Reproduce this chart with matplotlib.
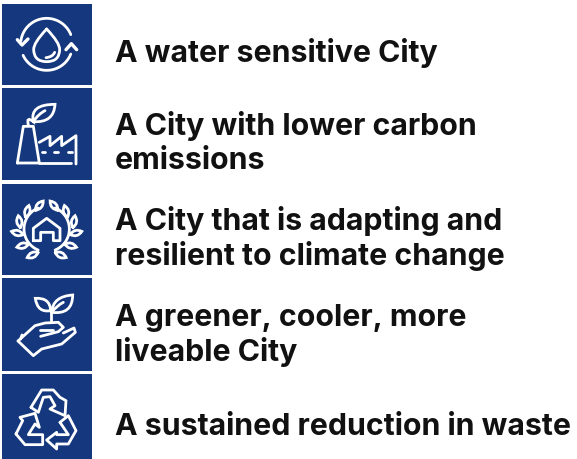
import numpy as np
import matplotlib
matplotlib.use('Agg')
import matplotlib.pyplot as plt
from matplotlib.patches import Rectangle, PathPatch
from matplotlib.path import Path

# Text lines of the list
line_texts = ['A water sensitive City', 'A City with lower carbon', 'emissions',
              'A City that is adapting and', 'resilient to climate change',
              'A greener, cooler, more', 'liveable City', 'A sustained reduction in waste']
line_baselines = [62, 135, 169, 230, 265, 326, 361, 435]

# Blue panels, top and bottom in pixels
panel_tops = [4.5, 88.5, 184.5, 279, 375]
panel_bottoms = [86, 181, 276, 372, 460]

navy = '#14377d'
text_color = '#111111'
icon_lw = 2.0

fig = plt.figure(figsize=(5.77, 4.6), dpi=100)
ax = fig.add_axes([0, 0, 1, 1])
ax.set_xlim(0, 577)
ax.set_ylim(460, 0)
ax.axis('off')

for top, bottom in zip(panel_tops, panel_bottoms):
    ax.add_patch(Rectangle((1.5, top), 90.5, bottom - top, color=navy, lw=0))

for txt, base in zip(line_texts, line_baselines):
    ax.text(115, base, txt, fontsize=21.8, fontweight='bold', family='Inter',
            color=text_color, va='baseline', ha='left')


# icon strokes are given in coordinates of a 3x crop, y0 is the crop offset
def stroke(pts, y0=0, closed=False, lw=icon_lw):
    pts = np.array(pts, dtype=float) / 3
    pts[:, 1] += y0
    if closed:
        pts = np.vstack([pts, pts[0]])
    ax.plot(pts[:, 0], pts[:, 1], color='white', lw=lw, solid_capstyle='round',
            solid_joinstyle='round')


def curve(pts, y0=0, lw=icon_lw):
    # chain of quadratic beziers: start, ctrl, end, ctrl, end...
    pts = np.array(pts, dtype=float) / 3
    pts[:, 1] += y0
    codes = [Path.MOVETO] + [Path.CURVE3] * (len(pts) - 1)
    ax.add_patch(PathPatch(Path(pts, codes), fc='none', ec='white', lw=lw, capstyle='round'))


def arc(cx, cy, r, a0, a1, y0=0, lw=icon_lw):
    t = np.radians(np.linspace(a0, a1, 60))
    stroke(np.column_stack([cx + r * np.cos(t), cy - r * np.sin(t)]), y0, lw=lw)


def leaf(cx, cy, angle, length=18, width=10, y0=0):
    # small outlined leaf in crop coordinates
    a = np.radians(angle)
    u = np.array([np.cos(a), -np.sin(a)])
    n = np.array([np.sin(a), np.cos(a)])
    c = np.array([cx, cy], dtype=float)
    curve([c - u * length, c + n * width * 1.6, c + u * length,
           c - n * width * 1.6, c - u * length], y0, lw=icon_lw)


# water cycle icon
arc(140, 136, 78, 22, 172)
arc(140, 136, 78, 205, 338)
stroke([(52, 122), (66, 138), (84, 120)], lw=2.4)
stroke([(198, 152), (214, 134), (230, 152)], lw=2.4)
curve([(140, 90), (100, 132), (101, 152), (102, 188), (140, 188),
       (178, 188), (179, 152), (180, 132), (140, 90)])
curve([(138, 176), (158, 174), (164, 160)])

# factory icon
stroke([(52, 492), (70, 382), (100, 382), (118, 492)], closed=True)
stroke([(118, 430), (150, 412), (150, 440), (185, 412), (185, 440), (228, 410), (228, 495)])
stroke([(118, 492), (212, 492)])
for x in [130, 168, 210]:
    stroke([(x - 5, 458), (x + 5, 458)])
curve([(85, 378), (78, 350), (100, 368), (88, 316), (165, 316),
       (162, 372), (100, 368)])
curve([(100, 368), (115, 345), (135, 335)])

# laurel and house icon
stroke([(100, 185), (100, 148), (140, 118), (180, 148), (180, 185), (160, 185),
        (160, 160), (122, 160), (122, 185)], 180, closed=True)
arc(140, 150, 68, 112, 248, 180)
arc(140, 150, 68, -68, 68, 180)
left_leaves = [(118, 80, 50), (82, 97, 75), (58, 128, 100), (52, 162, 165), (68, 200, 195), (98, 228, 205)]
for x, y, ang in left_leaves:
    leaf(x, y, ang, y0=180)
    leaf(280 - x, y, 180 - ang, y0=180)

# hand and plant icon
stroke([(152, 425), (152, 395)], 180)
curve([(152, 395), (150, 355), (106, 358), (112, 402), (152, 395)], 180)
curve([(155, 400), (218, 408), (218, 348), (158, 352), (155, 400)], 180)
curve([(155, 400), (170, 380), (190, 370)], 180)
stroke([(54, 486), (105, 440), (135, 432), (175, 430), (190, 445), (175, 458), (122, 472)], 180)
stroke([(66, 468), (62, 480)], 180)
stroke([(190, 462), (222, 447), (226, 460), (185, 495), (125, 510), (100, 530), (54, 486)], 180)
stroke([(120, 452), (160, 452)], 180)

# recycling icon
stroke([(93, 130), (125, 78), (160, 78), (180, 100), (198, 110), (195, 155), (150, 135), (165, 125),
        (150, 98), (130, 100), (115, 145)], 365, closed=True)
stroke([(48, 210), (68, 170), (60, 160), (105, 148), (118, 190), (105, 180), (85, 212),
        (128, 212), (128, 242), (75, 242)], 365, closed=True)
stroke([(180, 175), (205, 155), (228, 200), (205, 240), (170, 240), (170, 255), (140, 228),
        (170, 205), (170, 212), (205, 212)], 365, closed=True)

fig.savefig('out.png', dpi=100)
